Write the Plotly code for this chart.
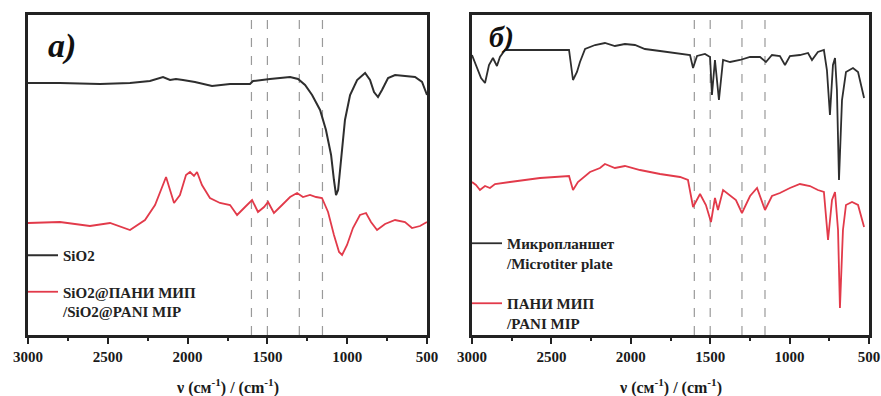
import plotly.graph_objects as go

# ---------------- data (wavenumber, cm^-1 ; intensity, a.u.) ----------------
sio2_x = [3000, 2800, 2549, 2361, 2236, 2154, 2110, 2073, 2029, 1954, 1847, 1734, 1609, 1590,
          1484, 1358, 1308, 1264, 1220, 1170, 1133, 1101, 1083, 1070, 1057, 1039, 1014, 982,
          938, 888, 857, 832, 807, 782, 744, 700, 638, 575, 531, 500]
sio2_y = [252, 252, 251, 252, 254, 258, 255, 256, 255, 253, 249, 251, 251, 254,
          256, 258, 256, 250, 240, 225, 205, 180, 155, 140, 145, 175, 215, 240,
          255, 262, 255, 243, 238, 245, 257, 260, 259, 258, 253, 240]

sio2pani_x = [3000, 2800, 2612, 2486, 2361, 2267, 2204, 2167, 2135, 2110, 2085, 2048, 2010, 1985,
              1960, 1941, 1910, 1860, 1797, 1734, 1690, 1640, 1596, 1559, 1521, 1496, 1459, 1408,
              1358, 1314, 1277, 1233, 1195, 1158, 1120, 1083, 1051, 1032, 1001, 964, 920, 882,
              851, 813, 763, 700, 638, 594, 544, 500]
sio2pani_y = [112, 113, 109, 112, 105, 115, 130, 145, 158, 145, 132, 140, 160, 163,
              159, 163, 150, 137, 132, 130, 120, 128, 135, 123, 128, 133, 122, 130,
              138, 142, 138, 140, 138, 137, 123, 100, 83, 80, 90, 107, 120, 122,
              113, 105, 111, 115, 113, 107, 109, 113]

plate_x = [3000, 2969, 2943, 2918, 2893, 2868, 2843, 2824, 2792, 2572, 2389, 2364, 2339, 2320,
           2288, 2225, 2163, 2100, 2037, 1974, 1911, 1816, 1722, 1627, 1608, 1583, 1533, 1501,
           1489, 1470, 1445, 1419, 1375, 1312, 1249, 1186, 1149, 1111, 1061, 1029, 998, 935,
           884, 859, 822, 784, 765, 746, 727, 714, 702, 689, 670, 645, 601, 569, 531]
plate_y = [280, 267, 257, 252, 270, 277, 269, 278, 285, 285, 285, 255, 263, 273,
           286, 290, 292, 289, 291, 290, 286, 284, 282, 280, 267, 279, 281, 278,
           240, 275, 235, 275, 273, 275, 278, 278, 273, 280, 279, 270, 279, 280,
           282, 275, 283, 285, 265, 220, 270, 277, 245, 155, 235, 263, 267, 263, 237]

pani_x = [3000, 2975, 2950, 2918, 2887, 2855, 2761, 2572, 2389, 2364, 2333, 2257, 2194, 2163,
          2100, 2037, 1942, 1816, 1690, 1640, 1608, 1564, 1527, 1495, 1470, 1451, 1419, 1375,
          1338, 1300, 1249, 1205, 1155, 1111, 1061, 998, 935, 872, 822, 784, 758, 733,
          714, 695, 683, 664, 645, 607, 569, 531]
pani_y = [153, 150, 145, 149, 147, 151, 153, 157, 159, 145, 153, 163, 167, 171,
          167, 169, 165, 161, 158, 155, 128, 141, 130, 113, 137, 125, 145, 140,
          135, 122, 139, 147, 125, 139, 142, 147, 151, 149, 145, 143, 95, 135,
          143, 105, 27, 105, 130, 133, 130, 108]

marker_lines = [1600, 1500, 1300, 1155]
x_ticks = [3000, 2500, 2000, 1500, 1000, 500]

names_left = ["SiO2", "SiO2@ПАНИ МИП<br>/SiO2@PANI MIP"]
names_right = ["Микропланшет<br>/Microtiter plate", "ПАНИ МИП<br>/PANI MIP"]
panel_labels = ["a)", "б)"]
x_title = "ν (см<sup>-1</sup>) / (cm<sup>-1</sup>)"

# ---------------- figure ----------------
W, H = 881, 396
BLACK = "#2e2e2e"
RED = "#e23a4a"
FONT = "Liberation Serif"

fig = go.Figure()
fig.add_trace(go.Scatter(x=sio2_x, y=sio2_y, mode="lines", name=names_left[0], legendgroup="a",
                         line=dict(color=BLACK, width=2), xaxis="x", yaxis="y", legend="legend"))
fig.add_trace(go.Scatter(x=sio2pani_x, y=sio2pani_y, mode="lines", name=names_left[1], legendgroup="b",
                         line=dict(color=RED, width=1.8), xaxis="x", yaxis="y", legend="legend"))
fig.add_trace(go.Scatter(x=plate_x, y=plate_y, mode="lines", name=names_right[0], legendgroup="c",
                         line=dict(color=BLACK, width=1.8), xaxis="x2", yaxis="y2", legend="legend2"))
fig.add_trace(go.Scatter(x=pani_x, y=pani_y, mode="lines", name=names_right[1], legendgroup="d",
                         line=dict(color=RED, width=1.8), xaxis="x2", yaxis="y2", legend="legend2"))

shapes = []
for xr, yr in (("x", "y"), ("x2", "y2")):
    for v in marker_lines:
        shapes.append(dict(type="line", xref=xr, yref=yr + " domain", x0=v, x1=v, y0=0, y1=1,
                           line=dict(color="#9a9a9a", width=1.2, dash="dash"), layer="below"))

ydom = [1 - 335 / H, 1 - 15 / H]
xaxis_common = dict(range=[3000, 500], tickvals=x_ticks, ticks="outside", ticklen=6, tickwidth=2,
                    tickcolor="#222", showline=True, linecolor="#222", linewidth=2.5, mirror=True,
                    showgrid=False, zeroline=False, automargin=False,
                    minor=dict(dtick=250, ticks="outside", ticklen=3, tickwidth=1.5, tickcolor="#222"),
                    tickfont=dict(family=FONT, size=15, color="#1a1a1a", weight="bold"))
yaxis_common = dict(range=[0, 320], showticklabels=False, ticks="", showline=True, linecolor="#222",
                    linewidth=2.5, mirror=True, showgrid=False, zeroline=False, domain=ydom,
                    automargin=False)

legend_common = dict(font=dict(family=FONT, size=15, color="#222", weight="bold"),
                     bgcolor="rgba(0,0,0,0)", itemwidth=30, valign="top",
                     yanchor="top", xanchor="left")

title_font = dict(family=FONT, size=16, color="#1a1a1a")

fig.update_layout(
    width=W, height=H, margin=dict(l=0, r=0, t=0, b=0),
    paper_bgcolor="white", plot_bgcolor="white",
    xaxis=dict(domain=[28 / W, 427 / W], anchor="y", **xaxis_common),
    yaxis=dict(anchor="x", **yaxis_common),
    xaxis2=dict(domain=[472 / W, 869 / W], anchor="y2", **xaxis_common),
    yaxis2=dict(anchor="x2", **yaxis_common),
    legend=dict(x=23 / W, y=1 - 239 / H, tracegroupgap=14, **legend_common),
    legend2=dict(x=467 / W, y=1 - 227 / H, tracegroupgap=18, **legend_common),
    shapes=shapes,
    annotations=[
        dict(text="<b><i>" + panel_labels[0] + "</i></b>", xref="paper", yref="paper",
             x=46 / W, y=1 - 46 / H, xanchor="left", yanchor="middle", showarrow=False,
             font=dict(family=FONT, size=34, color="#111")),
        dict(text="<b><i>" + panel_labels[1] + "</i></b>", xref="paper", yref="paper",
             x=487 / W, y=1 - 37 / H, xanchor="left", yanchor="middle", showarrow=False,
             font=dict(family=FONT, size=30, color="#111")),
        dict(text="<b>" + x_title + "</b>", xref="x domain", yref="paper",
             x=0.5, y=1 - 386 / H, xanchor="center", yanchor="middle", showarrow=False,
             font=title_font),
        dict(text="<b>" + x_title + "</b>", xref="x2 domain", yref="paper",
             x=0.5, y=1 - 386 / H, xanchor="center", yanchor="middle", showarrow=False,
             font=title_font),
    ],
    showlegend=True,
)

fig.write_html("out.html", config={"displayModeBar": False},
               post_script="document.body.style.margin='0';document.body.style.padding='0';")
